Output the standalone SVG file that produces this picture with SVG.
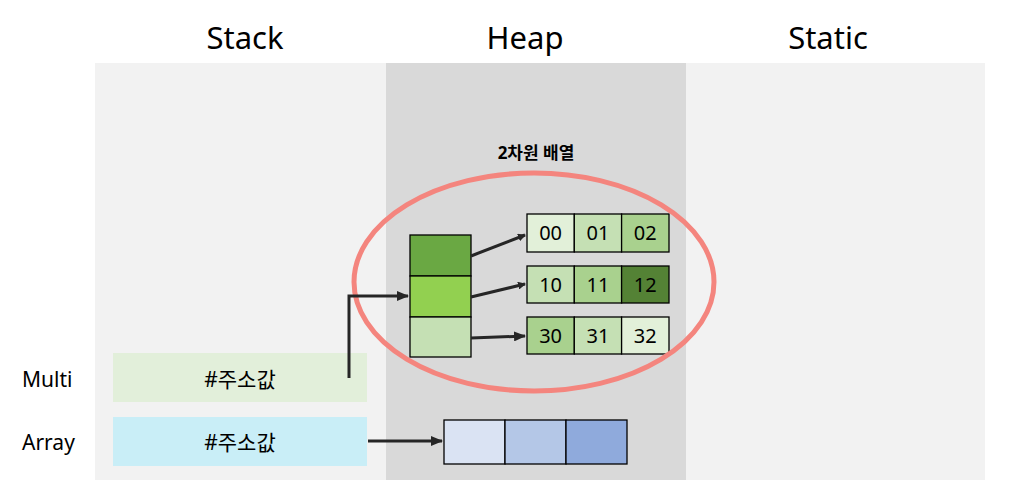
<svg xmlns="http://www.w3.org/2000/svg" width="1014" height="497" viewBox="0 0 1014 497">
<style>
.t{font-family:"Noto Sans","Noto Sans CJK KR",sans-serif;fill:#000}
.title{font-size:31px;text-anchor:middle}
.lbl{font-size:21px}
.cell{stroke:#000;stroke-width:1.3}
.num{font-family:"Noto Sans","Noto Sans CJK KR",sans-serif;font-size:20px;text-anchor:middle;fill:#000}
.con{stroke:#262626;stroke-width:3;fill:none}
</style>
<defs>
<marker id="ah" markerWidth="8" markerHeight="8" refX="7" refY="4" orient="auto" markerUnits="userSpaceOnUse" viewBox="0 0 8 8">
<path d="M0,0 L8,4 L0,8 z" fill="#262626"/>
</marker>
<marker id="ah2" markerWidth="12" markerHeight="10" refX="11" refY="5" orient="auto" markerUnits="userSpaceOnUse" viewBox="0 0 12 10">
<path d="M0,0 L12,5 L0,10 z" fill="#262626"/>
</marker>
</defs>
<rect width="1014" height="497" fill="#fff"/>
<g id="regions">
<rect x="95" y="63" width="291" height="417" fill="#f2f2f2"/>
<rect x="386" y="63" width="300" height="417" fill="#d9d9d9"/>
<rect x="686" y="63" width="299" height="417" fill="#f2f2f2"/>
<text class="t title" x="245" y="49">Stack</text>
<text class="t title" x="525" y="49">Heap</text>
<text class="t title" x="828" y="49">Static</text>
</g>
<g id="multi">
<text class="t lbl" x="22" y="387">Multi</text>
<rect x="113" y="353" width="254" height="49" fill="#e2efda"/>
<text class="t lbl" x="240" y="387" text-anchor="middle">#주소값</text>
</g>
<g id="array">
<text class="t lbl" x="22" y="450">Array</text>
<rect x="113" y="417" width="254" height="49" fill="#c9eef7"/>
<text class="t lbl" x="240" y="450" text-anchor="middle">#주소값</text>
</g>
<g id="array-cells">
<rect class="cell" x="444" y="420" width="61" height="44" fill="#dae3f3"/>
<rect class="cell" x="505" y="420" width="61" height="44" fill="#b4c7e7"/>
<rect class="cell" x="566" y="420" width="61" height="44" fill="#8faadc"/>
</g>
<g id="pointers">
<rect class="cell" x="410" y="235" width="61" height="41" fill="#6aa843"/>
<rect class="cell" x="410" y="276" width="61" height="41" fill="#92d050"/>
<rect class="cell" x="410" y="317" width="61" height="40" fill="#c5e0b4"/>
</g>
<g id="row0">
<rect class="cell" x="527" y="214" width="47.3" height="38" fill="#e2f0d9"/>
<rect class="cell" x="574.3" y="214" width="47.3" height="38" fill="#c5e0b4"/>
<rect class="cell" x="621.6" y="214" width="47.4" height="38" fill="#a9d18e"/>
<text class="num" x="550.6" y="240">00</text>
<text class="num" x="598" y="240">01</text>
<text class="num" x="645.3" y="240">02</text>
</g>
<g id="row1">
<rect class="cell" x="527" y="266" width="47.3" height="37" fill="#c5e0b4"/>
<rect class="cell" x="574.3" y="266" width="47.3" height="37" fill="#a9d18e"/>
<rect class="cell" x="621.6" y="266" width="47.4" height="37" fill="#548235"/>
<text class="num" x="550.6" y="291.5">10</text>
<text class="num" x="598" y="291.5">11</text>
<text class="num" x="645.3" y="291.5">12</text>
</g>
<g id="row2">
<rect class="cell" x="527" y="317" width="47.3" height="37" fill="#a9d18e"/>
<rect class="cell" x="574.3" y="317" width="47.3" height="37" fill="#c5e0b4"/>
<rect class="cell" x="621.6" y="317" width="47.4" height="37" fill="#e2f0d9"/>
<text class="num" x="550.6" y="342.5">30</text>
<text class="num" x="598" y="342.5">31</text>
<text class="num" x="645.3" y="342.5">32</text>
</g>
<g id="group-2d">
<ellipse cx="534" cy="282" rx="180" ry="109" fill="none" stroke="#f4857e" stroke-width="5"/>
<text class="t" x="536" y="159" font-size="17" font-weight="bold" text-anchor="middle">2차원 배열</text>
</g>
<g id="connectors">
<path class="con" d="M349,378 V296 H408" marker-end="url(#ah2)"/>
<path class="con" d="M368,441 H442" marker-end="url(#ah2)"/>
<path class="con" d="M471,256 L525,235" stroke-width="2.5" marker-end="url(#ah)"/>
<path class="con" d="M471,297 L525,284" stroke-width="2.5" marker-end="url(#ah)"/>
<path class="con" d="M471,338 L525,336" marker-end="url(#ah2)"/>
</g>
</svg>
